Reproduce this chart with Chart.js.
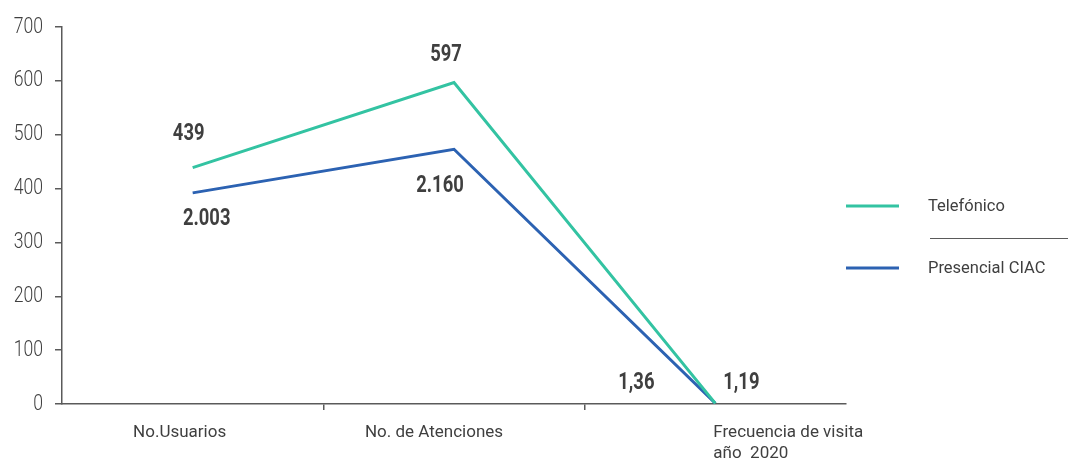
<!DOCTYPE html>
<html lang="es">
<head>
<meta charset="utf-8">
<title>Telefónico vs Presencial CIAC</title>
<script src="https://cdn.jsdelivr.net/npm/chart.js@4/dist/chart.umd.min.js"></script>
<style>
  html, body { margin: 0; padding: 0; background: #ffffff; }
  #wrap { width: 1068px; height: 459px; }
</style>
</head>
<body>
<div id="wrap"><canvas id="chart" width="1068" height="459"></canvas></div>
<script>
// Categories and series values
const categories = ['No.Usuarios', 'No. de Atenciones', ['Frecuencia de visita', 'año  2020']];
const telefonico = [439, 597, 1.19];
const presencial = [392, 473, 1.36];
const telefonicoLabels = ['439', '597', '1,19'];
const presencialLabels = ['2.003', '2.160', '1,36'];
const yTicks = [0, 100, 200, 300, 400, 500, 600, 700];

// Styling
const GREEN = '#33c3a2';
const BLUE = '#2c62b2';
const AXIS = '#5a5a5a';
const TEXT = '#3f3f3f';
const SANS = 'Roboto, "Noto Sans", sans-serif';
const CONDENSE = 0.8; // horizontal squeeze for the condensed number faces

// Value label offsets from each point (dx, dy)
const telefonicoLabelOffsets = [[-4, -33], [-8, -27], [26, -20]];
const presencialLabelOffsets = [[14, 26], [-14, 37], [-79, -20]];
// Category label placement relative to each category point
const categoryLabelOffsets = [[-13, 'center'], [-20, 'center'], [-2, 'left']];

// Draws text squeezed horizontally around its anchor
function narrowText(ctx, text, x, y, align) {
  ctx.save();
  ctx.translate(x, y);
  ctx.scale(CONDENSE, 1);
  ctx.textAlign = align;
  ctx.fillText(text, 0, 0);
  ctx.restore();
}

const valueLabels = {
  id: 'valueLabels',
  afterDatasetsDraw(chart) {
    const ctx = chart.ctx;
    const sets = [[0, telefonicoLabels, telefonicoLabelOffsets], [1, presencialLabels, presencialLabelOffsets]];
    ctx.save();
    ctx.font = 'bold 23px ' + SANS;
    ctx.fillStyle = TEXT;
    ctx.textBaseline = 'middle';
    sets.forEach(([di, texts, offs]) => {
      const meta = chart.getDatasetMeta(di);
      meta.data.forEach((pt, i) => {
        narrowText(ctx, texts[i], pt.x + offs[i][0], pt.y + offs[i][1], 'center');
      });
    });
    ctx.restore();
  }
};

const yLabels = {
  id: 'yLabels',
  afterDraw(chart) {
    const ctx = chart.ctx;
    const y = chart.scales.y;
    ctx.save();
    ctx.font = '300 22px ' + SANS;
    ctx.fillStyle = TEXT;
    ctx.textBaseline = 'middle';
    yTicks.forEach(v => narrowText(ctx, String(v), y.right - 19, y.getPixelForValue(v), 'right'));
    ctx.restore();
  }
};

const categoryLabels = {
  id: 'categoryLabels',
  afterDraw(chart) {
    const ctx = chart.ctx;
    const x = chart.scales.x;
    ctx.save();
    ctx.font = '17px ' + SANS;
    ctx.fillStyle = TEXT;
    ctx.textBaseline = 'middle';
    categories.forEach((lab, i) => {
      const lines = Array.isArray(lab) ? lab : [lab];
      const px = x.getPixelForValue(i) + categoryLabelOffsets[i][0];
      ctx.textAlign = categoryLabelOffsets[i][1];
      lines.forEach((ln, k) => ctx.fillText(ln, px, chart.chartArea.bottom + 29 + k * 21));
    });
    ctx.restore();
  }
};

const sideLegend = {
  id: 'sideLegend',
  afterDraw(chart) {
    const ctx = chart.ctx;
    const rows = [[chart.data.datasets[0], 207], [chart.data.datasets[1], 269]];
    ctx.save();
    ctx.font = '16.5px ' + SANS;
    ctx.textBaseline = 'middle';
    ctx.textAlign = 'left';
    rows.forEach(([ds, y]) => {
      ctx.strokeStyle = ds.borderColor;
      ctx.lineWidth = 3;
      ctx.beginPath();
      ctx.moveTo(846, y - 1);
      ctx.lineTo(899, y - 1);
      ctx.stroke();
      ctx.fillStyle = TEXT;
      ctx.fillText(ds.label, 928, y);
    });
    ctx.strokeStyle = AXIS;
    ctx.lineWidth = 1;
    ctx.beginPath();
    ctx.moveTo(930, 238.5);
    ctx.lineTo(1068, 238.5);
    ctx.stroke();
    ctx.restore();
  }
};

new Chart(document.getElementById('chart'), {
  type: 'line',
  data: {
    labels: categories,
    datasets: [
      { label: 'Telefónico', data: telefonico, borderColor: GREEN, backgroundColor: GREEN, borderWidth: 3, pointRadius: 0, tension: 0 },
      { label: 'Presencial CIAC', data: presencial, borderColor: BLUE, backgroundColor: BLUE, borderWidth: 3, pointRadius: 0, tension: 0 }
    ]
  },
  options: {
    responsive: false,
    animation: false,
    layout: { padding: { top: 27, right: 222, bottom: 0, left: 0 } },
    plugins: { legend: { display: false }, tooltip: { enabled: false } },
    scales: {
      x: {
        offset: true,
        ticks: { display: false },
        grid: {
          offset: true,
          drawOnChartArea: false,
          drawTicks: true,
          tickLength: 6,
          lineWidth: 1.5,
          color: (c) => (c.index === 1 || c.index === 2) ? AXIS : 'rgba(0,0,0,0)'
        },
        border: { display: true, color: AXIS, width: 1.5 },
        afterFit: (s) => { s.height = 55; }
      },
      y: {
        min: 0,
        max: 700,
        afterBuildTicks: (s) => { s.ticks = yTicks.map(v => ({ value: v })); },
        ticks: { display: false },
        grid: { drawOnChartArea: false, drawTicks: true, tickLength: 7, lineWidth: 1.5, color: AXIS },
        border: { display: true, color: AXIS, width: 1.5 },
        afterFit: (s) => { s.width = 62; }
      }
    }
  },
  plugins: [valueLabels, yLabels, categoryLabels, sideLegend]
});
</script>
</body>
</html>
